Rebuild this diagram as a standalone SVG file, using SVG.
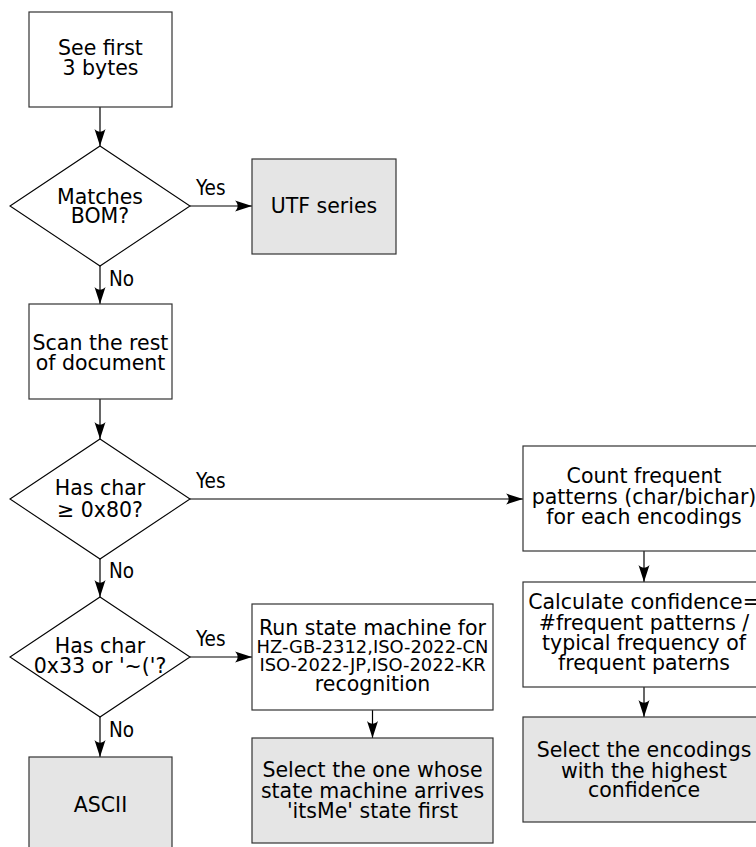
<svg xmlns="http://www.w3.org/2000/svg" width="756" height="847" viewBox="0 0 756 847">
<style>
  text { font-family: "DejaVu Sans", "Noto Sans", sans-serif; font-size: 20.5px; fill: #000; text-anchor: middle; }
  .small { font-size: 17.9px; }
  .lbl { font-family: "DejaVu Sans Condensed", "DejaVu Sans", sans-serif; font-stretch: condensed; font-size: 20.5px; text-anchor: start; }
  .box { fill: #fff; stroke: #333; stroke-width: 1.2; }
  .term { fill: #e5e5e5; stroke: #333; stroke-width: 1.2; }
  .dia { fill: #fff; stroke: #000; stroke-width: 1.1; }
  .conn { fill: none; stroke: #000; stroke-width: 1.2; marker-end: url(#arr); }
</style>
<defs>
  <marker id="arr" viewBox="-18 -6 18 12" markerWidth="18" markerHeight="12" refX="0" refY="0" orient="auto" markerUnits="userSpaceOnUse">
    <path d="M0,0 L-17,-5.5 C-13.5,-2 -13.5,2 -17,5.5 Z" fill="#000"/>
  </marker>
</defs>
<rect width="756" height="847" fill="#fff"/>

<g id="connectors">
  <path class="conn" d="M100,107 L100,146"/>
  <path class="conn" d="M190,206 L252,206"/>
  <path class="conn" d="M100,266 L100,304"/>
  <path class="conn" d="M100,399 L100,439"/>
  <path class="conn" d="M190,499 L523,499"/>
  <path class="conn" d="M100,559 L100,597"/>
  <path class="conn" d="M190,657 L252,657"/>
  <path class="conn" d="M100,717 L100,757"/>
  <path class="conn" d="M372.5,710 L372.5,738"/>
  <path class="conn" d="M644,551 L644,582"/>
  <path class="conn" d="M644,687 L644,717"/>
  <text class="lbl" x="196" y="195">Yes</text>
  <text class="lbl" x="109" y="286">No</text>
  <text class="lbl" x="196" y="488">Yes</text>
  <text class="lbl" x="109" y="578">No</text>
  <text class="lbl" x="196" y="646">Yes</text>
  <text class="lbl" x="109" y="737">No</text>
</g>

<g id="see-first">
  <rect class="box" x="29" y="12" width="143" height="95"/>
  <text x="100.5" y="55">See first</text>
  <text x="100.5" y="75">3 bytes</text>
</g>

<g id="matches-bom">
  <polygon class="dia" points="100,146 190,206 100,266 10,206"/>
  <text x="100" y="204">Matches</text>
  <text x="100" y="223">BOM?</text>
</g>

<g id="utf-series">
  <rect class="term" x="252" y="159" width="144" height="95"/>
  <text x="324" y="213">UTF series</text>
</g>

<g id="scan-rest">
  <rect class="box" x="29" y="304" width="143" height="95"/>
  <text x="100.5" y="350">Scan the rest</text>
  <text x="100.5" y="370">of document</text>
</g>

<g id="has-char-80">
  <polygon class="dia" points="100,439 190,499 100,559 10,499"/>
  <text x="100" y="495">Has char</text>
  <text x="100" y="517">≥ 0x80?</text>
</g>

<g id="has-char-33">
  <polygon class="dia" points="100,597 190,657 100,717 10,657"/>
  <text x="100" y="653">Has char</text>
  <text x="100" y="673">0x33 or '~('?</text>
</g>

<g id="ascii">
  <rect class="term" x="29" y="757" width="143" height="95"/>
  <text x="100.5" y="812">ASCII</text>
</g>

<g id="run-state-machine">
  <rect class="box" x="252" y="604" width="241" height="106"/>
  <text x="372.5" y="635">Run state machine for</text>
  <text class="small" x="372.5" y="653">HZ-GB-2312,ISO-2022-CN</text>
  <text class="small" x="372.5" y="671">ISO-2022-JP,ISO-2022-KR</text>
  <text x="372.5" y="691">recognition</text>
</g>

<g id="select-one">
  <rect class="term" x="252" y="738" width="241" height="105"/>
  <text x="372.5" y="777">Select the one whose</text>
  <text x="372.5" y="798">state machine arrives</text>
  <text x="372.5" y="818">'itsMe' state first</text>
</g>

<g id="count-frequent">
  <rect class="box" x="523" y="446" width="242" height="105"/>
  <text x="644" y="483">Count frequent</text>
  <text x="644" y="504">patterns (char/bichar)</text>
  <text x="644" y="524">for each encodings</text>
</g>

<g id="calculate-confidence">
  <rect class="box" x="523" y="582" width="242" height="105"/>
  <text x="644" y="609">Calculate confidence=</text>
  <text x="644" y="630">#frequent patterns /</text>
  <text x="644" y="650">typical frequency of</text>
  <text x="644" y="670">frequent paterns</text>
</g>

<g id="select-encodings">
  <rect class="term" x="523" y="717" width="242" height="105"/>
  <text x="644" y="757">Select the encodings</text>
  <text x="644" y="778">with the highest</text>
  <text x="644" y="797">confidence</text>
</g>
</svg>
